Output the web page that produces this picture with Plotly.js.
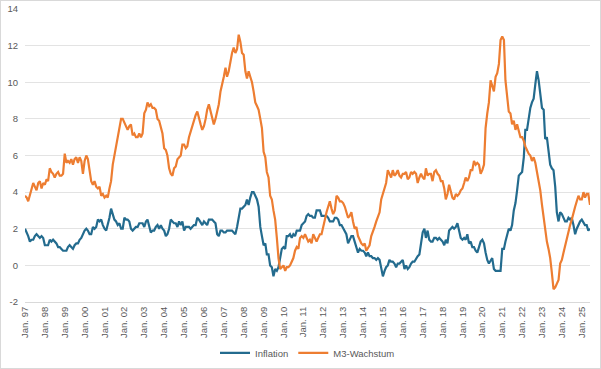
<!DOCTYPE html>
<html>
<head>
<meta charset="utf-8">
<script src="https://cdn.plot.ly/plotly-3.0.1.min.js"></script>
<style>
  html, body { margin: 0; padding: 0; background: #ffffff; }
  #frame { position: absolute; left: 0; top: 0; width: 599px; height: 367px; border: 1px solid #d9d9d9; }
  #chart { width: 599px; height: 367px; }
</style>
</head>
<body>
<div id="frame"><div id="chart"></div></div>
<script>
// Monthly series, Jan 1997 .. Jun 2025 (one row per year)
const startYear = 1997;

const inflation = [
  2.0, 1.8, 1.6, 1.3, 1.4, 1.4, 1.6, 1.7, 1.6, 1.5, 1.6, 1.5,
  1.1, 1.1, 1.1, 1.4, 1.3, 1.4, 1.3, 1.2, 1.0, 1.0, 0.9, 0.8,
  0.8, 0.8, 1.0, 1.1, 1.0, 0.9, 1.1, 1.2, 1.2, 1.4, 1.5, 1.7,
  1.9, 2.0, 1.9, 1.7, 1.7, 2.1, 2.0, 2.1, 2.5, 2.4, 2.5, 2.2,
  2.0, 1.9, 2.2, 2.6, 3.1, 2.8, 2.5, 2.4, 2.2, 2.3, 2.0, 2.0,
  2.6, 2.5, 2.5, 2.4, 2.0, 1.9, 2.0, 2.1, 2.1, 2.3, 2.3, 2.3,
  2.1, 2.4, 2.5, 2.1, 1.8, 1.9, 1.9, 2.1, 2.2, 2.0, 2.2, 2.0,
  1.9, 1.6, 1.7, 2.0, 2.5, 2.4, 2.3, 2.3, 2.1, 2.4, 2.2, 2.4,
  1.9, 2.1, 2.1, 2.1, 2.0, 2.1, 2.2, 2.2, 2.6, 2.5, 2.3, 2.2,
  2.4, 2.3, 2.2, 2.5, 2.5, 2.5, 2.4, 2.3, 1.7, 1.6, 1.9, 1.9,
  1.8, 1.8, 1.9, 1.9, 1.9, 1.9, 1.8, 1.7, 2.1, 2.6, 3.1, 3.1,
  3.2, 3.3, 3.6, 3.3, 3.7, 4.0, 4.0, 3.8, 3.6, 3.2, 2.1, 1.6,
  1.1, 1.2, 0.6, 0.6, 0.0, -0.1, -0.6, -0.2, -0.3, -0.1, 0.5, 0.9,
  1.0, 0.9, 1.6, 1.6, 1.7, 1.5, 1.7, 1.6, 1.9, 1.9, 1.9, 2.2,
  2.3, 2.4, 2.7, 2.8, 2.7, 2.7, 2.6, 2.6, 3.0, 3.0, 3.0, 2.7,
  2.7, 2.7, 2.7, 2.6, 2.4, 2.4, 2.4, 2.6, 2.6, 2.5, 2.2, 2.2,
  2.0, 1.8, 1.7, 1.2, 1.4, 1.6, 1.6, 1.3, 1.1, 0.7, 0.9, 0.8,
  0.8, 0.7, 0.5, 0.7, 0.5, 0.5, 0.4, 0.4, 0.3, 0.4, 0.3, -0.2,
  -0.6, -0.3, -0.1, 0.0, 0.3, 0.2, 0.2, 0.1, -0.1, 0.1, 0.1, 0.2,
  0.3, -0.2, 0.0, -0.2, -0.1, 0.1, 0.2, 0.2, 0.4, 0.5, 0.6, 1.1,
  1.8, 2.0, 1.5, 1.9, 1.4, 1.3, 1.3, 1.5, 1.5, 1.4, 1.5, 1.4,
  1.3, 1.1, 1.4, 1.2, 1.9, 2.0, 2.1, 2.0, 2.1, 2.3, 1.9, 1.5,
  1.4, 1.5, 1.4, 1.7, 1.2, 1.3, 1.0, 1.0, 0.8, 0.7, 1.0, 1.3,
  1.4, 1.2, 0.7, 0.3, 0.1, 0.3, 0.4, -0.2, -0.3, -0.3, -0.3, -0.3,
  0.9, 0.9, 1.3, 1.6, 2.0, 1.9, 2.2, 3.0, 3.4, 4.1, 4.9, 5.0,
  5.1, 5.9, 7.4, 7.4, 8.1, 8.6, 8.9, 9.1, 9.9, 10.6, 10.1, 9.2,
  8.6, 8.5, 6.9, 7.0, 6.1, 5.5, 5.3, 5.2, 4.3, 2.9, 2.4, 2.9,
  2.8, 2.6, 2.4, 2.4, 2.6, 2.5, 2.6, 2.2, 1.7, 2.0, 2.2, 2.4,
  2.5, 2.3, 2.2, 2.2, 1.9, 2.0
];

const m3Growth = [
  3.8, 3.7, 3.5, 3.8, 4.2, 4.5, 4.3, 4.1, 4.5, 4.6, 4.2, 4.5,
  4.4, 4.7, 4.6, 5.3, 5.1, 5.0, 4.8, 5.0, 5.1, 4.9, 4.9, 5.0,
  6.1, 5.6, 5.7, 5.6, 5.8, 5.5, 5.8, 5.9, 5.6, 5.9, 5.7, 5.0,
  5.7, 6.0, 5.8, 5.3, 4.6, 4.4, 4.6, 4.3, 4.2, 4.3, 3.8, 3.9,
  3.7, 3.8, 3.7, 4.2, 4.6, 5.5, 6.0, 6.6, 7.0, 7.4, 8.0, 8.0,
  7.8, 7.6, 7.4, 7.6, 7.7, 7.1, 7.2, 7.0, 7.0, 7.2, 7.0, 7.2,
  8.3, 8.5, 8.9, 8.7, 8.8, 8.6, 8.6, 8.5, 8.0, 7.9, 7.6, 7.2,
  6.4, 6.3, 6.0, 5.3, 5.0, 4.9, 5.3, 5.4, 5.8, 5.9, 6.0, 6.6,
  6.6, 6.4, 6.5, 7.0, 7.3, 7.7, 8.0, 8.2, 8.4, 8.0, 7.7, 7.4,
  7.6, 8.0, 8.5, 8.8, 8.4, 8.1, 7.7, 8.0, 8.4, 8.8, 9.5, 10.0,
  10.3, 10.8, 10.3, 10.6, 11.2, 11.6, 11.9, 11.6, 11.8, 12.6, 12.2, 11.6,
  11.5, 10.6, 10.2, 10.6, 10.3, 10.0, 9.5, 8.9, 8.7, 8.5, 8.0, 7.5,
  6.2, 5.9, 5.1, 4.8, 3.8, 3.6, 3.0, 2.5, 1.5, 0.4, -0.2, -0.1,
  0.0, -0.3, -0.1, -0.1, 0.0, 0.2, 0.4, 0.8, 1.0, 0.9, 1.5, 1.6,
  1.5, 1.7, 1.5, 1.3, 1.4, 1.2, 1.7, 1.5, 1.3, 1.5, 1.7, 1.7,
  2.2, 2.5, 2.9, 3.2, 3.5, 3.1, 2.8, 3.0, 3.8, 3.7, 3.5, 3.5,
  3.4, 3.2, 2.9, 2.6, 2.7, 2.9, 2.4, 2.0, 2.1, 1.6, 1.4, 1.2,
  1.1, 1.2, 0.8, 1.0, 1.1, 1.6, 1.8, 2.1, 2.4, 2.6, 2.9, 3.6,
  3.9, 4.1, 4.5, 5.2, 5.0, 4.8, 5.2, 4.9, 5.0, 5.2, 4.9, 4.8,
  5.0, 5.0, 5.1, 4.7, 4.8, 5.1, 5.0, 5.1, 5.0, 4.5, 4.8, 5.0,
  4.8, 4.7, 5.3, 4.9, 5.0, 5.0, 4.6, 5.1, 5.2, 5.0, 4.9, 4.6,
  4.6, 4.2, 3.6, 3.9, 4.4, 4.1, 3.7, 3.6, 3.9, 3.8, 3.9, 4.1,
  4.2, 4.5, 4.8, 4.6, 4.8, 5.2, 5.2, 5.7, 5.5, 5.6, 5.5, 5.0,
  5.2, 5.5, 7.5, 8.3, 8.9, 10.1, 9.8, 9.5, 10.3, 10.5, 11.0, 12.3,
  12.5, 12.3, 10.1, 9.2, 8.4, 8.3, 7.7, 7.9, 7.4, 7.7, 7.3, 7.0,
  7.0, 6.8, 6.5, 6.3, 6.1, 6.0, 5.7, 5.9, 5.6, 5.1, 4.6, 4.1,
  3.3, 2.6, 1.8, 1.3, 0.9, 0.4, -0.4, -1.3, -1.2, -1.0, -0.8, 0.1,
  0.3, 0.7, 1.1, 1.5, 1.8, 2.2, 2.5, 2.9, 3.2, 3.5, 3.8, 3.6,
  3.6, 4.0, 3.7, 3.9, 3.9, 3.3
];

const xTickLabels = ['Jan. 97','Jan. 98','Jan. 99','Jan. 00','Jan. 01','Jan. 02','Jan. 03',
  'Jan. 04','Jan. 05','Jan. 06','Jan. 07','Jan. 08','Jan. 09','Jan. 10','Jan. 11','Jan. 12',
  'Jan. 13','Jan. 14','Jan. 15','Jan. 16','Jan. 17','Jan. 18','Jan. 19','Jan. 20','Jan. 21',
  'Jan. 22','Jan. 23','Jan. 24','Jan. 25'];

const yTickValues = [-2, 0, 2, 4, 6, 8, 10, 12, 14];
const yTickLabels = ['-2', '0', '2', '4', '6', '8', '10', '12', '14'];

const seriesNames = ['Inflation', 'M3-Wachstum'];

// month dates for the category axis
function pad(n) { return n < 10 ? '0' + n : '' + n; }
const months = inflation.map((_, i) => {
  const y = startYear + Math.floor(i / 12);
  const m = (i % 12) + 1;
  return y + '-' + pad(m) + '-01';
});
const janTicks = xTickLabels.map((_, i) => (startYear + i) + '-01-01');

const textColor = '#595959';
const font = { family: 'Liberation Sans, Arial, sans-serif', size: 9.5, color: textColor };

const traces = [
  { x: months, y: inflation, name: seriesNames[0], type: 'scatter', mode: 'lines',
    line: { color: '#236b8e', width: 2.2 } },
  { x: months, y: m3Growth, name: seriesNames[1], type: 'scatter', mode: 'lines',
    line: { color: '#ed7d31', width: 2.2 } }
];

const layout = {
  width: 599, height: 367,
  margin: { l: 24, r: 10, t: 8, b: 66, autoexpand: false },
  paper_bgcolor: '#ffffff', plot_bgcolor: '#ffffff',
  font: font,
  showlegend: true,
  legend: {
    orientation: 'h', x: 0.5, xanchor: 'center',
    yref: 'container', y: 0.041, yanchor: 'middle',
    font: { family: font.family, size: 9.5, color: textColor },
    itemwidth: 30, tracegroupgap: 0
  },
  xaxis: {
    type: 'date',
    range: [months[0], months[months.length - 1]],
    tickmode: 'array', tickvals: janTicks, ticktext: xTickLabels,
    tickangle: -90,
    tickfont: { family: font.family, size: 9.5, color: textColor },
    showgrid: false, zeroline: false,
    showline: true, linecolor: '#d9d9d9', linewidth: 1,
    ticks: '', fixedrange: true, automargin: false
  },
  yaxis: {
    range: [-2, 14],
    tickmode: 'array', tickvals: yTickValues, ticktext: yTickLabels,
    tickfont: { family: font.family, size: 9.5, color: textColor },
    showgrid: true, gridcolor: '#e3e3e3', gridwidth: 1,
    zeroline: false, showline: false, ticks: '',
    ticklabelstandoff: 6, fixedrange: true, automargin: false
  }
};

Plotly.newPlot('chart', traces, layout, { staticPlot: true, displayModeBar: false });
</script>
</body>
</html>
